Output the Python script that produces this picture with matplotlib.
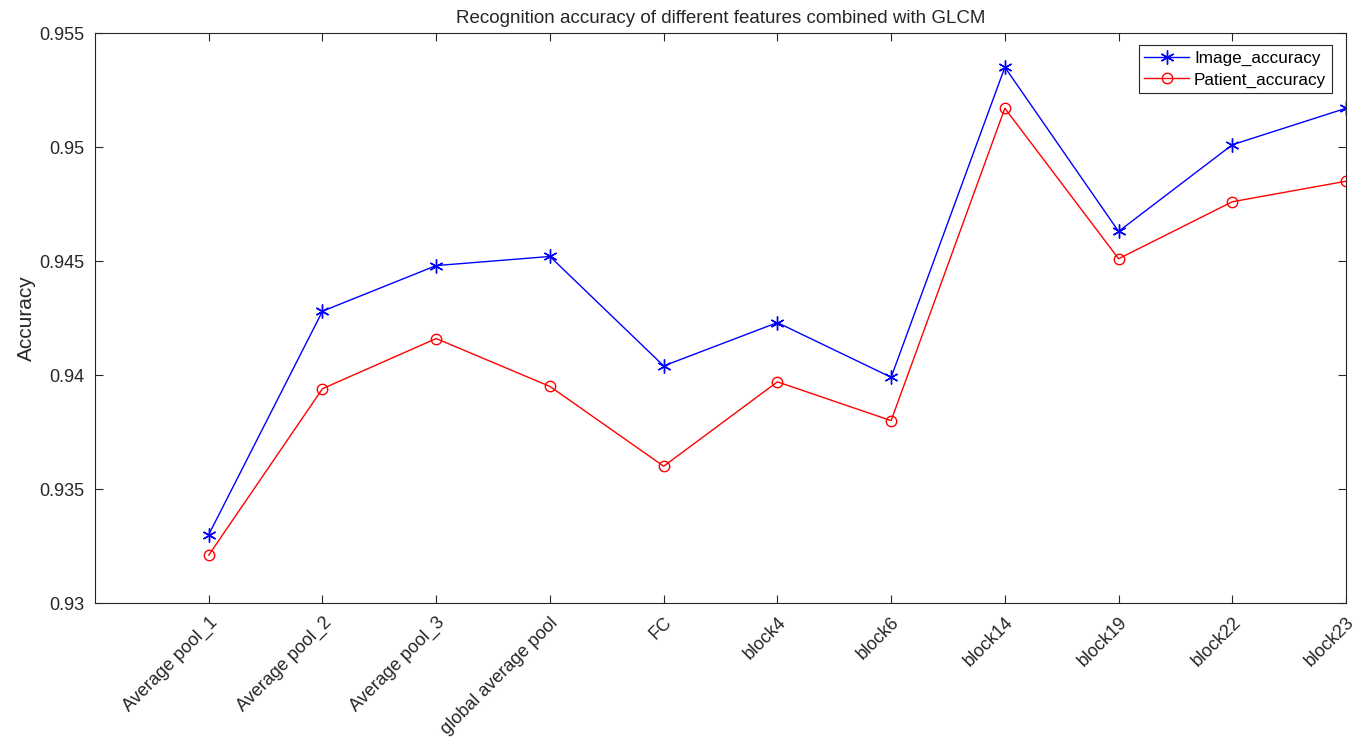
import matplotlib
matplotlib.use("Agg")
import matplotlib.pyplot as plt
import numpy as np

plt.rcParams["font.family"] = ["Liberation Sans", "DejaVu Sans"]

features = ["Average pool_1", "Average pool_2", "Average pool_3",
            "global average pool", "FC", "block4", "block6", "block14",
            "block19", "block22", "block23"]
image_acc = [0.9330, 0.9428, 0.9448, 0.9452, 0.9404, 0.9423, 0.9399,
             0.9535, 0.9463, 0.9501, 0.9517]
patient_acc = [0.9321, 0.9394, 0.9416, 0.9395, 0.9360, 0.9397, 0.9380,
               0.9517, 0.9451, 0.9476, 0.9485]
y_ticks = [0.93, 0.935, 0.94, 0.945, 0.95, 0.955]
y_labels = ["0.93", "0.935", "0.94", "0.945", "0.95", "0.955"]

AX_COLOR = "#262626"

fig = plt.figure(figsize=(13.71, 7.42), dpi=100)
ax = fig.add_axes([0.0693, 0.1873, 0.9125, 0.7682])

x = np.arange(1, len(features) + 1)
# MATLAB-style asterisk marker (six arms, no fill)
ax.plot(x, image_acc, color="blue", lw=1.0, marker=(6, 2, 0), markersize=10,
        markeredgewidth=1.0, label="Image_accuracy")
ax.plot(x, patient_acc, color="red", lw=1.0, marker="o", markersize=7.5,
        markerfacecolor="none", markeredgewidth=1.0, label="Patient_accuracy")

ax.set_xlim(0, 11)
ax.set_ylim(0.93, 0.955)
ax.set_xticks(x)
ax.set_xticklabels(features, rotation=45, ha="right", rotation_mode="anchor",
                   fontsize=13)
ax.set_yticks(y_ticks)
ax.set_yticklabels(y_labels, fontsize=13)
ax.tick_params(direction="in", top=True, right=True, length=6, width=0.8,
               colors=AX_COLOR, pad=8)
for s in ax.spines.values():
    s.set_color(AX_COLOR)
    s.set_linewidth(0.8)

ax.set_ylabel("Accuracy", fontsize=15, color=AX_COLOR, labelpad=2)
ax.set_title("Recognition accuracy of different features combined with GLCM",
             fontsize=13.5, color=AX_COLOR, pad=7)

leg = ax.legend(loc="upper right", bbox_to_anchor=(0.9888, 0.979),
                fontsize=12.3, fancybox=False, framealpha=1, borderpad=0.34,
                handlelength=2.6, handletextpad=0.3, labelspacing=0.38,
                borderaxespad=0)
leg.get_frame().set_edgecolor(AX_COLOR)
leg.get_frame().set_linewidth(0.8)

fig.savefig("out.png", dpi=100)
